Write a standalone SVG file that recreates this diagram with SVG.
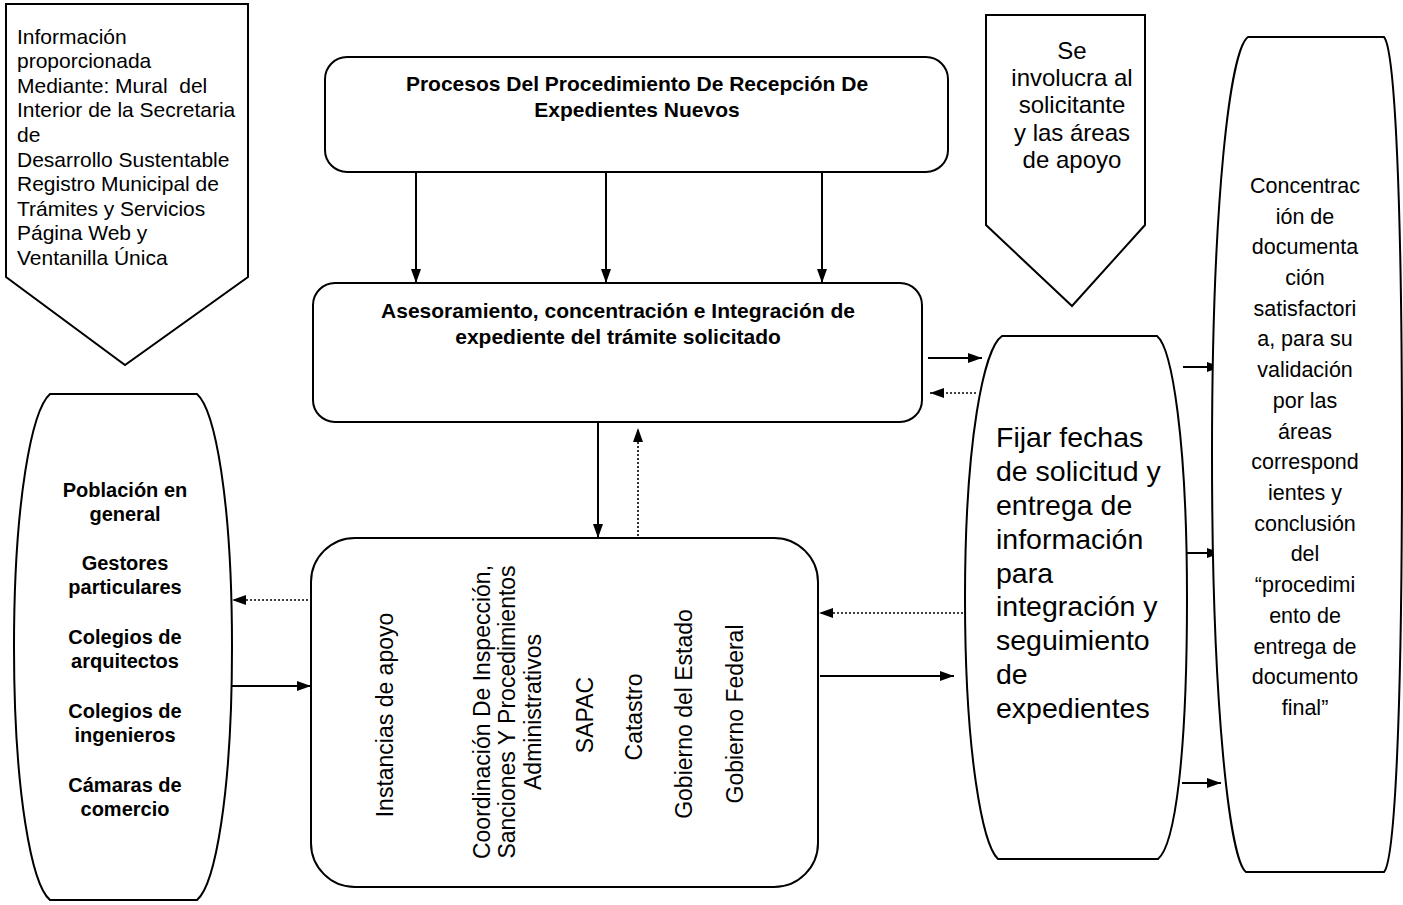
<svg xmlns="http://www.w3.org/2000/svg" width="1403" height="905" viewBox="0 0 1403 905">
<defs>
<style>
.shape{fill:#fff;stroke:#000;stroke-width:2}
.solid{fill:none;stroke:#000;stroke-width:2;marker-end:url(#ah)}
.dot{fill:none;stroke:#000;stroke-width:1.6;stroke-dasharray:2 2;marker-end:url(#ah)}
text{font-family:"Liberation Sans",Arial,sans-serif;fill:#000}
.b{font-weight:bold;font-size:21px}
.tl{font-size:21px}
.rp{font-size:24px;text-anchor:middle}
.lo{font-weight:bold;font-size:20px;text-anchor:middle}
.fj{font-size:28.5px}
.cc{font-size:21.5px;text-anchor:middle}
.rot{font-size:23px;text-anchor:middle}
.mid{text-anchor:middle}
</style>
<marker id="ah" viewBox="0 0 14 10" markerWidth="14" markerHeight="10" refX="14" refY="5" orient="auto" markerUnits="userSpaceOnUse">
<path d="M0,0 L14,5 L0,10 Z" fill="#000"/>
</marker>
</defs>
<rect width="1403" height="905" fill="#fff"/>

<g id="connectors">
<line class="solid" x1="416" y1="172" x2="416" y2="283"/>
<line class="solid" x1="606" y1="172" x2="606" y2="283"/>
<line class="solid" x1="822" y1="172" x2="822" y2="283"/>
<line class="solid" x1="598" y1="422" x2="598" y2="538"/>
<line class="dot" x1="638" y1="536" x2="638" y2="428"/>
<line class="solid" x1="928" y1="358" x2="982" y2="358"/>
<line class="dot" x1="976" y1="393" x2="930" y2="393"/>
<line class="solid" x1="1183" y1="367" x2="1221" y2="367"/>
<line class="solid" x1="1186" y1="553" x2="1221" y2="553"/>
<line class="solid" x1="1182" y1="783" x2="1221" y2="783"/>
<line class="dot" x1="963" y1="613" x2="819" y2="613"/>
<line class="solid" x1="820" y1="676" x2="954" y2="676"/>
<line class="dot" x1="308" y1="600" x2="232" y2="600"/>
<line class="solid" x1="232" y1="686" x2="311" y2="686"/>
</g>

<g id="info-mural">
<path class="shape" d="M6,4 H248 V277 L125,365 L6,277 Z"/>
<text class="tl" x="17" y="44">Información</text>
<text class="tl" x="17" y="68">proporcionada</text>
<text class="tl" x="17" y="93">Mediante: Mural&#160; del</text>
<text class="tl" x="17" y="117">Interior de la Secretaria</text>
<text class="tl" x="17" y="142">de</text>
<text class="tl" x="17" y="167">Desarrollo Sustentable</text>
<text class="tl" x="17" y="191">Registro Municipal de</text>
<text class="tl" x="17" y="216">Trámites y Servicios</text>
<text class="tl" x="17" y="240">Página Web y</text>
<text class="tl" x="17" y="265">Ventanilla Única</text>
</g>

<g id="procesos">
<rect class="shape" x="325" y="57" width="623" height="115" rx="22"/>
<text class="b mid" x="637" y="91">Procesos Del Procedimiento De Recepción De</text>
<text class="b mid" x="637" y="117">Expedientes Nuevos</text>
</g>

<g id="asesoramiento">
<rect class="shape" x="313" y="283" width="609" height="139" rx="22"/>
<text class="b mid" x="618" y="318">Asesoramiento, concentración e Integración de</text>
<text class="b mid" x="618" y="344">expediente del trámite solicitado</text>
</g>

<g id="instancias">
<rect class="shape" x="311" y="538" width="507" height="349" rx="44"/>
<text class="rot" transform="translate(393,715) rotate(-90)">Instancias de apoyo</text>
<text class="rot" transform="translate(490,712) rotate(-90)">Coordinación De Inspección,</text>
<text class="rot" transform="translate(515,712) rotate(-90)">Sanciones Y Procedimientos</text>
<text class="rot" transform="translate(541,712) rotate(-90)">Administrativos</text>
<text class="rot" transform="translate(593,715) rotate(-90)">SAPAC</text>
<text class="rot" transform="translate(642,717) rotate(-90)">Catastro</text>
<text class="rot" transform="translate(692,714) rotate(-90)">Gobierno del Estado</text>
<text class="rot" transform="translate(743,714) rotate(-90)">Gobierno Federal</text>
</g>

<g id="solicitante">
<path class="shape" d="M986,15 H1145 V225 L1072,306 L986,225 Z"/>
<text class="rp" x="1072" y="59">Se</text>
<text class="rp" x="1072" y="86">involucra al</text>
<text class="rp" x="1072" y="113">solicitante</text>
<text class="rp" x="1072" y="141">y las áreas</text>
<text class="rp" x="1072" y="168">de apoyo</text>
</g>

<g id="poblacion">
<path class="shape" d="M50,394 H197 C215,410 232,500 232,647 C232,794 215,885 197,900 H50 C32,885 14,794 14,647 C14,500 32,410 50,394 Z"/>
<text class="lo" x="125" y="497">Población en</text>
<text class="lo" x="125" y="521">general</text>
<text class="lo" x="125" y="570">Gestores</text>
<text class="lo" x="125" y="594">particulares</text>
<text class="lo" x="125" y="644">Colegios de</text>
<text class="lo" x="125" y="668">arquitectos</text>
<text class="lo" x="125" y="718">Colegios de</text>
<text class="lo" x="125" y="742">ingenieros</text>
<text class="lo" x="125" y="792">Cámaras de</text>
<text class="lo" x="125" y="816">comercio</text>
</g>

<g id="fijar">
<path class="shape" d="M1002,336 H1157 C1172,348 1187,440 1187,598 C1187,756 1175,845 1158,859 H998 C983,845 965,756 965,598 C965,440 984,348 1002,336 Z"/>
<text class="fj" x="996" y="447">Fijar fechas</text>
<text class="fj" x="996" y="481">de solicitud y</text>
<text class="fj" x="996" y="515">entrega de</text>
<text class="fj" x="996" y="549">información</text>
<text class="fj" x="996" y="583">para</text>
<text class="fj" x="996" y="616">integración y</text>
<text class="fj" x="996" y="650">seguimiento</text>
<text class="fj" x="996" y="684">de</text>
<text class="fj" x="996" y="718">expedientes</text>
</g>

<g id="concentracion">
<path class="shape" d="M1248,37 H1384 C1395,50 1402,200 1402,455 C1402,710 1395,860 1384,872 H1246 C1230,860 1212,710 1212,455 C1212,200 1230,50 1248,37 Z"/>
<text class="cc" x="1305" y="193">Concentrac</text>
<text class="cc" x="1305" y="224">ión de</text>
<text class="cc" x="1305" y="254">documenta</text>
<text class="cc" x="1305" y="285">ción</text>
<text class="cc" x="1305" y="316">satisfactori</text>
<text class="cc" x="1305" y="346">a, para su</text>
<text class="cc" x="1305" y="377">validación</text>
<text class="cc" x="1305" y="408">por las</text>
<text class="cc" x="1305" y="439">áreas</text>
<text class="cc" x="1305" y="469">correspond</text>
<text class="cc" x="1305" y="500">ientes y</text>
<text class="cc" x="1305" y="531">conclusión</text>
<text class="cc" x="1305" y="561">del</text>
<text class="cc" x="1305" y="592">“procedimi</text>
<text class="cc" x="1305" y="623">ento de</text>
<text class="cc" x="1305" y="654">entrega de</text>
<text class="cc" x="1305" y="684">documento</text>
<text class="cc" x="1305" y="715">final”</text>
</g>
</svg>
